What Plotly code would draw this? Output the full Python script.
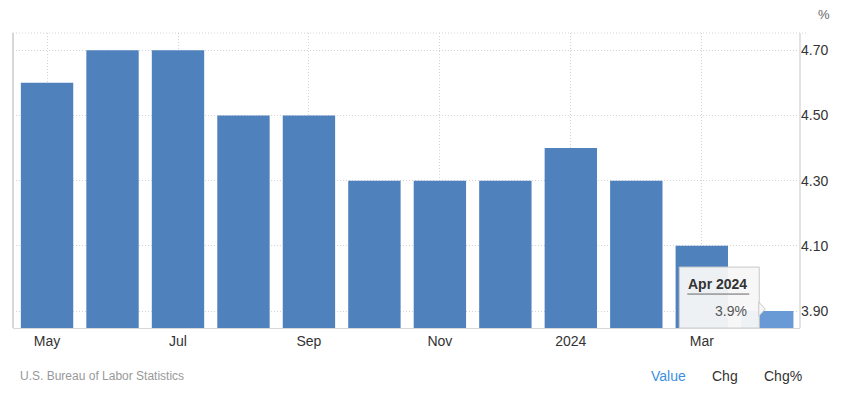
import plotly.graph_objects as go

months = ["May 2023", "Jun 2023", "Jul 2023", "Aug 2023", "Sep 2023", "Oct 2023",
          "Nov 2023", "Dec 2023", "Jan 2024", "Feb 2024", "Mar 2024", "Apr 2024"]
values = [4.6, 4.7, 4.7, 4.5, 4.5, 4.3, 4.3, 4.3, 4.4, 4.3, 4.1, 3.9]
tick_idx = [0, 2, 4, 6, 8, 10]
tick_text = ["May", "Jul", "Sep", "Nov", "2024", "Mar"]
y_ticks = [3.9, 4.1, 4.3, 4.5, 4.7]
y_tick_text = ["3.90", "4.10", "4.30", "4.50", "4.70"]

BAR = "#4f81bd"
HI = "#6a9ad6"
x = list(range(len(values)))
colors = [BAR] * (len(values) - 1) + [HI]

fig = go.Figure()
fig.add_trace(go.Bar(x=x, y=values, marker=dict(color=colors, line=dict(width=0)),
                     hoverinfo="skip"))

GRID = "#d4d4d4"
DOT = "1px,2px"
fig.update_layout(
    width=846, height=398,
    margin=dict(l=13, r=46, t=33, b=70),
    paper_bgcolor="white", plot_bgcolor="white",
    bargap=0.2, showlegend=False,
    font=dict(family="Arial, Liberation Sans, sans-serif", color="#333333", size=14),
    xaxis=dict(range=[-0.52, 11.5], tickmode="array", tickvals=tick_idx, ticktext=tick_text,
               showgrid=True, gridcolor=GRID, griddash=DOT, gridwidth=1,
               showline=True, linecolor="#d8d8d8", linewidth=1, mirror=False,
               ticks="", tickfont=dict(size=14, color="#333333"), zeroline=False),
    yaxis=dict(range=[3.848, 4.753], side="right", tickmode="array", tickvals=y_ticks,
               ticktext=y_tick_text, showgrid=True, gridcolor=GRID, griddash=DOT,
               showline=False, ticks="", zeroline=False,
               tickfont=dict(size=14, color="#333333")),
)

# plot borders
fig.add_shape(type="line", xref="paper", yref="paper", x0=0, x1=0, y0=0, y1=1,
              line=dict(color="#d8d8d8", width=2))
fig.add_shape(type="line", xref="paper", yref="paper", x0=1, x1=1, y0=0, y1=1,
              line=dict(color="#e3e3e3", width=2))
fig.add_shape(type="line", xref="paper", yref="paper", x0=0, x1=1.01, y0=1, y1=1,
              line=dict(color=GRID, width=1, dash=DOT))

# "%" unit label
fig.add_annotation(text="%", xref="paper", yref="paper", x=1.03, y=1.0, yshift=19,
                   showarrow=False, xanchor="center", yanchor="middle",
                   font=dict(size=13, color="#666666"))

# Tooltip anchored to last data point
last_x = x[-1]
last_y = values[-1]
fig.add_shape(type="rect", xref="x", yref="y", xsizemode="pixel", ysizemode="pixel",
              xanchor=last_x, yanchor=last_y, x0=-88, x1=-8, y0=-17, y1=44,
              fillcolor="rgba(247,247,247,0.95)", line=dict(color="#c8c8c8", width=1))
fig.add_shape(type="path", xref="x", yref="y", xsizemode="pixel", ysizemode="pixel",
              xanchor=last_x, yanchor=last_y,
              path="M -8.5,9 L -2,2 L -8.5,-5 Z",
              fillcolor="rgba(247,247,247,1)", line=dict(color="#c8c8c8", width=1))
fig.add_shape(type="line", xref="x", yref="y", xsizemode="pixel", ysizemode="pixel",
              xanchor=last_x, yanchor=last_y, x0=-80, x1=-18, y0=17, y1=17,
              line=dict(color="#666666", width=1))
fig.add_annotation(x=last_x, y=last_y, xref="x", yref="y", text="<b>Apr 2024</b>",
                   showarrow=False, xanchor="right", yanchor="middle",
                   xshift=-18, yshift=27, font=dict(size=14, color="#333333"))
fig.add_annotation(x=last_x, y=last_y, xref="x", yref="y", text="3.9%",
                   showarrow=False, xanchor="right", yanchor="middle",
                   xshift=-18, yshift=0, font=dict(size=14, color="#555555"))

# footer
fig.add_annotation(text="U.S. Bureau of Labor Statistics", xref="paper", yref="paper",
                   x=0, xshift=5, y=0, yshift=-48, xanchor="left", yanchor="middle",
                   showarrow=False, font=dict(size=12, color="#999999"))
footer = [("Value", 668, "#3c8fe0"), ("Chg", 725, "#333333"), ("Chg%", 783, "#333333")]
for label, px, col in footer:
    fig.add_annotation(text=label, xref="paper", yref="paper",
                       x=(px - 13) / 787, y=0, yshift=-48, xanchor="center", yanchor="middle",
                       showarrow=False, font=dict(size=14, color=col))

fig.write_html("out.html")
